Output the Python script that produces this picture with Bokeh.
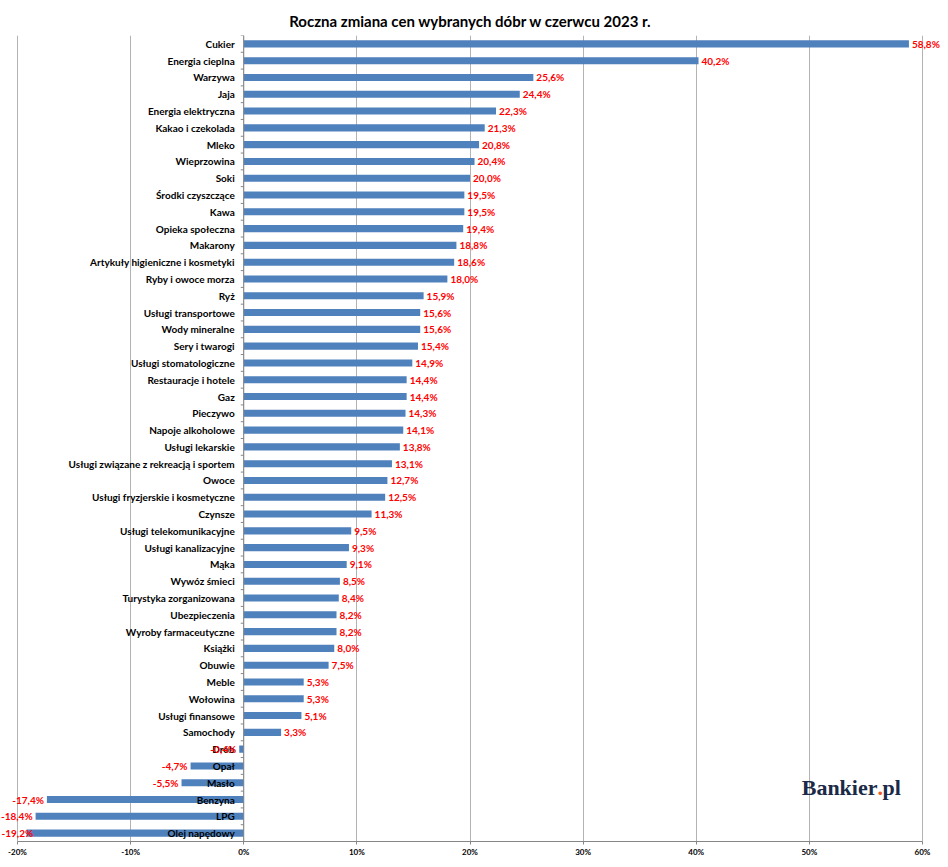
from bokeh.plotting import figure
from bokeh.models import ColumnDataSource, LabelSet, Label, Span, FixedTicker, Range1d
from bokeh.core.properties import value
from bokeh.embed import file_html
from bokeh.resources import INLINE

categories = ["Cukier", "Energia cieplna", "Warzywa", "Jaja", "Energia elektryczna",
              "Kakao i czekolada", "Mleko", "Wieprzowina", "Soki", "Środki czyszczące",
              "Kawa", "Opieka społeczna", "Makarony", "Artykuły higieniczne i kosmetyki",
              "Ryby i owoce morza", "Ryż", "Usługi transportowe", "Wody mineralne",
              "Sery i twarogi", "Usługi stomatologiczne", "Restauracje i hotele", "Gaz",
              "Pieczywo", "Napoje alkoholowe", "Usługi lekarskie",
              "Usługi związane z rekreacją i sportem", "Owoce",
              "Usługi fryzjerskie i kosmetyczne", "Czynsze", "Usługi telekomunikacyjne",
              "Usługi kanalizacyjne", "Mąka", "Wywóz śmieci", "Turystyka zorganizowana",
              "Ubezpieczenia", "Wyroby farmaceutyczne", "Książki", "Obuwie", "Meble",
              "Wołowina", "Usługi finansowe", "Samochody", "Drób", "Opał", "Masło",
              "Benzyna", "LPG", "Olej napędowy"]
values = [58.8, 40.2, 25.6, 24.4, 22.3, 21.3, 20.8, 20.4, 20.0, 19.5, 19.5, 19.4, 18.8,
          18.6, 18.0, 15.9, 15.6, 15.6, 15.4, 14.9, 14.4, 14.4, 14.3, 14.1, 13.8, 13.1,
          12.7, 12.5, 11.3, 9.5, 9.3, 9.1, 8.5, 8.4, 8.2, 8.2, 8.0, 7.5, 5.3, 5.3, 5.1,
          3.3, -0.4, -4.7, -5.5, -17.4, -18.4, -19.2]
x_ticks = [-20, -10, 0, 10, 20, 30, 40, 50, 60]
x_tick_labels = ["-20%", "-10%", "0%", "10%", "20%", "30%", "40%", "50%", "60%"]
title_text = "Roczna zmiana cen wybranych dóbr w czerwcu 2023 r."

FONT = "Lato"
LABEL_SIZE = 10

# layout (figure pixels)
W, H = 940, 859
AX_LEFT_PX, AX_RIGHT_PX = 17, 922      # where -20% and 60% fall
scale = (AX_RIGHT_PX - AX_LEFT_PX) / (x_ticks[-1] - x_ticks[0])
x_start = x_ticks[0] - AX_LEFT_PX / scale
x_end = x_ticks[-1] + (W - AX_RIGHT_PX) / scale

n = len(categories)
ypos = list(range(n))

def fmt(v):
    return ("%.1f" % v).replace(".", ",") + "%"

def text_w(s):
    w = 0.0
    for ch in s:
        if ch.isdigit():
            w += 0.58
        elif ch in ",.":
            w += 0.25
        elif ch == "-":
            w += 0.36
        elif ch == "%":
            w += 0.82
        else:
            w += 0.55
    return w * LABEL_SIZE

pos_idx = [i for i, v in enumerate(values) if v >= 0]
neg_idx = [i for i, v in enumerate(values) if v < 0]

src = ColumnDataSource(dict(y=ypos, v=values, cat=categories, zero=[0] * n))
src_pos = ColumnDataSource(dict(y=[ypos[i] for i in pos_idx], v=[values[i] for i in pos_idx],
                                lab=[fmt(values[i]) for i in pos_idx]))

# negative labels: left of bar end, kept inside chart area (like the original)
neg_fit_x, neg_fit_y, neg_fit_lab = [], [], []
neg_clamp_x, neg_clamp_y, neg_clamp_lab = [], [], []
for i in neg_idx:
    lab = fmt(values[i])
    if values[i] - (3 + text_w(lab)) / scale < x_start:
        neg_clamp_x.append(x_start)
        neg_clamp_y.append(ypos[i])
        neg_clamp_lab.append(lab)
    else:
        neg_fit_x.append(values[i])
        neg_fit_y.append(ypos[i])
        neg_fit_lab.append(lab)
src_neg = ColumnDataSource(dict(x=neg_fit_x, y=neg_fit_y, lab=neg_fit_lab))
src_negc = ColumnDataSource(dict(x=neg_clamp_x, y=neg_clamp_y, lab=neg_clamp_lab))

p = figure(width=W, height=H, output_backend="svg", toolbar_location=None,
           x_range=Range1d(x_start, x_end), y_range=Range1d(n - 0.5, -0.5),
           y_axis_location=None, title=title_text)
p.min_border_left = 0
p.min_border_right = 0
p.min_border_top = 35
p.min_border_bottom = 0
p.outline_line_color = None
p.background_fill_color = "white"

p.title.align = "center"
p.title.vertical_align = "middle"
p.title.text_font = FONT
p.title.text_font_size = "15px"
p.title.text_font_style = "bold"
p.title.text_color = "black"

p.hbar(y="y", left="zero", right="v", height=0.42, source=src,
       fill_color="#4F81BD", line_color=None)

# vertical axis at 0 with small outward ticks at category boundaries
p.add_layout(Span(location=0, dimension="height", line_color="#868686", line_width=1))
bounds = [i - 0.5 for i in range(n + 1)]
p.segment(x0=[0] * len(bounds), y0=bounds, x1=[-3 / scale] * len(bounds), y1=bounds,
          line_color="#868686", line_width=1)

p.xgrid.grid_line_color = "#b3b3b3"
p.ygrid.grid_line_color = None
p.xaxis.ticker = FixedTicker(ticks=x_ticks)
p.xaxis.bounds = (x_ticks[0], x_ticks[-1])
p.xaxis.major_label_overrides = {t: l for t, l in zip(x_ticks, x_tick_labels)}
p.xaxis.axis_line_color = "#868686"
p.xaxis.major_tick_line_color = "#868686"
p.xaxis.major_tick_out = 3
p.xaxis.major_tick_in = 0
p.xaxis.minor_tick_line_color = None
p.xaxis.major_label_text_font = FONT
p.xaxis.major_label_text_font_size = "8px"
p.xaxis.major_label_text_font_style = "bold"
p.xaxis.major_label_text_color = "black"
p.xaxis.major_label_standoff = 2

common = dict(y="y", text="lab", text_baseline="middle", text_font=value(FONT),
              text_font_size=value("%spx" % LABEL_SIZE), text_font_style="bold",
              text_color="#FF0000")
p.add_layout(LabelSet(x="zero", y="y", text="cat", source=src, x_offset=-9,
                      text_align="right", text_baseline="middle",
                      text_font=value(FONT), text_font_size=value("%spx" % LABEL_SIZE),
                      text_font_style="bold", text_color="black"))
p.add_layout(LabelSet(x="v", source=src_pos, x_offset=3, text_align="left", **common))
p.add_layout(LabelSet(x="x", source=src_neg, x_offset=-3, text_align="right", **common))
p.add_layout(LabelSet(x="x", source=src_negc, x_offset=1, text_align="left", **common))

# logo (placed by pixel target, converted to data units)
logo_font = "Liberation Serif"
logo_y = 44.3
logo_x = x_start + 877 / scale
logo_common = dict(y=logo_y, text_baseline="middle", text_font=logo_font,
                   text_font_size="22px", text_font_style="bold")
p.add_layout(Label(x=logo_x, text="Bankier", text_align="right", text_color="#1b2a47",
                   **logo_common))
p.add_layout(Label(x=logo_x, text=".", text_align="left", text_color="#f05a28",
                   **logo_common))
p.add_layout(Label(x=logo_x, x_offset=5, text="pl", text_align="left", text_color="#1b2a47",
                   **logo_common))

open("out.html", "w").write(file_html(p, INLINE))
